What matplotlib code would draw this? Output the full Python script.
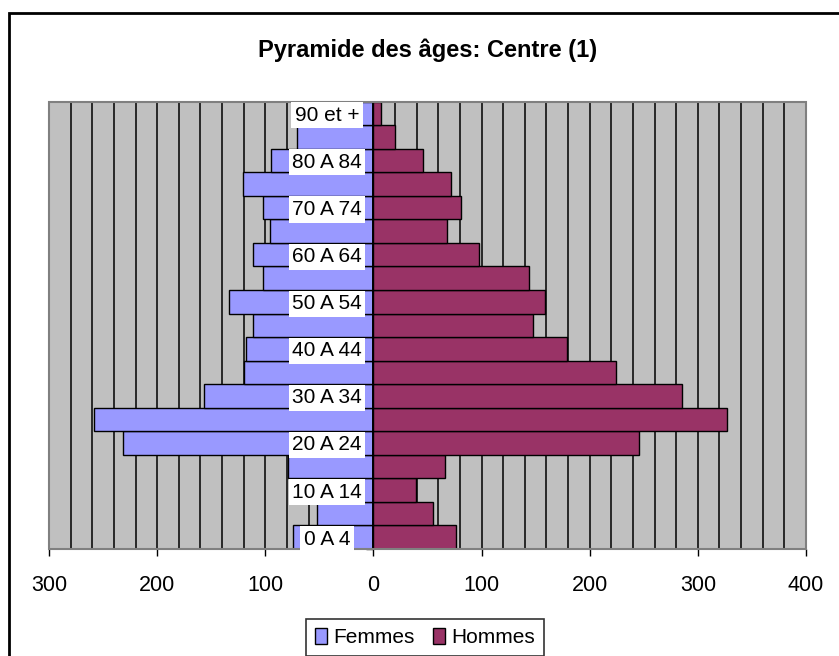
import matplotlib.pyplot as plt
import numpy as np
from matplotlib.patches import Patch, Rectangle

# -------------------------------------------------------------------------------- #

# ~  Data (bottom -> top)

age_groups = ['0 A 4', '5 A 9', '10 A 14', '15 A 19', '20 A 24', '25 A 29',
              '30 A 34', '35 A 39', '40 A 44', '45 A 49', '50 A 54', '55 A 59',
              '60 A 64', '65 A 69', '70 A 74', '75 A 79', '80 A 84', '85 A 89',
              '90 et +']
femmes = [74, 52, 60, 79, 232, 258, 157, 120, 118, 111, 134, 102, 111, 96,
          102, 121, 95, 71, 20]
hommes = [76, 55, 39, 66, 246, 327, 285, 224, 179, 148, 159, 144, 98, 68,
          81, 72, 46, 20, 7]
x_ticks = [-300, -200, -100, 0, 100, 200, 300, 400]

title = 'Pyramide des âges: Centre (1)'

# -------------------------------------------------------------------------------- #

# ~  Plot

plt.rcParams['font.family'] = ['Liberation Sans', 'DejaVu Sans']
fs = 15

W, H = 839, 656
fig = plt.figure(figsize=(W / 100, H / 100), dpi=100)
ax = fig.add_axes([49 / W, 1 - 549 / H, 757 / W, 447.3 / H])
ax.set_facecolor('#C0C0C0')

y = np.arange(len(age_groups))
ax.barh(y, -np.array(femmes), height=1.0, color='#9999FF',
        edgecolor='black', linewidth=1.0, zorder=2, label='Femmes')
ax.barh(y, hommes, height=1.0, color='#993366',
        edgecolor='black', linewidth=1.0, zorder=2, label='Hommes')

ax.set_xlim(-300, 400)
ax.set_ylim(-0.5, len(age_groups) - 0.5)

# x axis
ax.set_xticks(x_ticks)
ax.set_xticklabels([str(abs(v)) for v in x_ticks], fontsize=fs + 0.5)
ax.set_xticks(np.arange(-300, 401, 20), minor=True)
ax.tick_params(axis='x', which='major', direction='out', length=5,
               width=1.0, pad=14)
ax.tick_params(axis='x', which='minor', length=0)
ax.grid(axis='x', which='both', color='black', linewidth=1.1, zorder=1)
ax.set_axisbelow(True)

# category axis sits at zero
ax.spines['left'].set_position(('data', 0))
ax.spines['left'].set_zorder(4)
ax.spines['left'].set_linewidth(1.4)
ax.set_yticks(np.arange(-0.5, len(age_groups), 1.0))
ax.set_yticklabels([])
ax.tick_params(axis='y', direction='out', length=5, width=1.0)
ax.spines['bottom'].set_linewidth(1.3)
for s in ['top', 'right']:
    ax.spines[s].set_visible(False)

# grey plot-area border
ax.add_patch(Rectangle((0, 0), 1, 1, transform=ax.transAxes, fill=False,
                       edgecolor='#808080', linewidth=1.5, zorder=5,
                       clip_on=False))

# category labels, every other group
for i in range(0, len(age_groups), 2):
    ax.text(-43, i - 0.08, age_groups[i], ha='center', va='center',
            fontsize=fs, zorder=6,
            bbox=dict(facecolor='white', edgecolor='none', pad=2.5))

fig.text(428 / W, 1 - 50 / H, title, ha='center', va='center',
         fontsize=17, fontweight='bold')

handles = [Patch(facecolor='#9999FF', edgecolor='black', label='Femmes'),
           Patch(facecolor='#993366', edgecolor='black', label='Hommes')]
leg = fig.legend(handles=handles, loc='center', ncol=2,
                 bbox_to_anchor=(425 / W, 1 - 637.5 / H), fontsize=fs,
                 frameon=True, fancybox=False, handlelength=0.55,
                 handleheight=0.8, handletextpad=0.3, columnspacing=0.9,
                 borderpad=0.45, borderaxespad=0)
leg.get_frame().set_edgecolor('black')
leg.get_frame().set_linewidth(1.2)

# outer chart frame (runs off the right and bottom edges)
fig.add_artist(Rectangle((9 / W, -0.1), 1.5, (H - 13) / H + 0.1,
                         transform=fig.transFigure, fill=False,
                         edgecolor='black', linewidth=2))

plt.savefig('out.png', dpi=100)
